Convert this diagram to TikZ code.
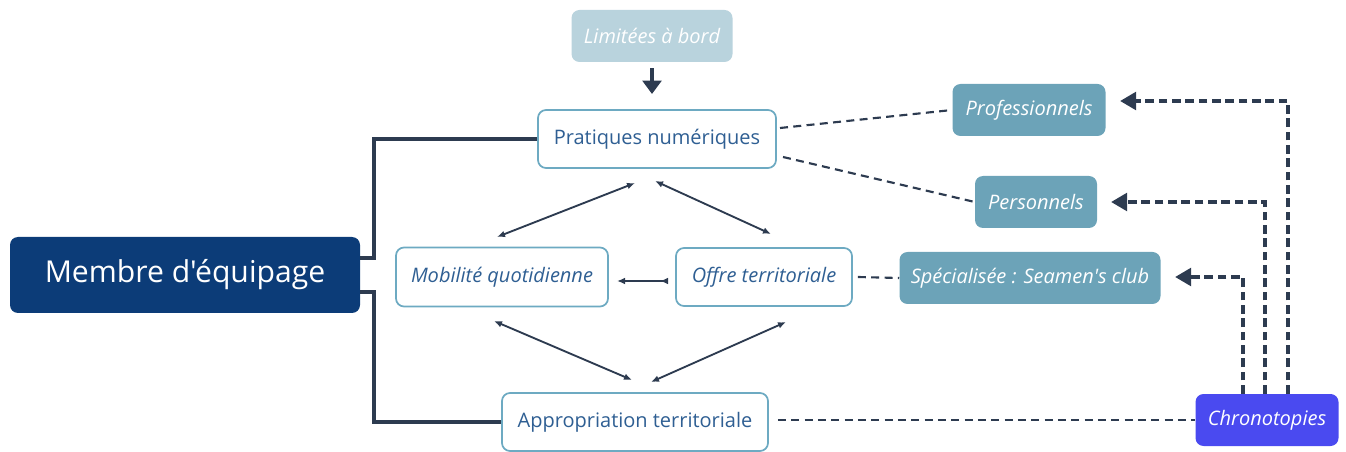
\documentclass[tikz,border=0pt]{standalone}
\usepackage{fontspec}
\setmainfont{Open Sans}[Ligatures=TeXOff]
\usetikzlibrary{arrows.meta}
\definecolor{navy}{HTML}{0C3C78}
\definecolor{conn}{HTML}{2D3B50}
\definecolor{bord}{HTML}{6DAAC2}
\definecolor{txt}{HTML}{2F5F93}
\definecolor{light}{HTML}{B9D3DD}
\definecolor{mid}{HTML}{6CA3B8}
\definecolor{chrono}{HTML}{4A4AF0}
\tikzset{
  base/.style={rounded corners=6pt, inner sep=0pt, font=\fontsize{15}{18}\selectfont},
  whitebox/.style={base, draw=bord, line width=1.3pt, fill=white, text=txt},
  midbox/.style={base, fill=mid, text=white, font=\fontsize{15}{18}\selectfont\itshape},
  trunk/.style={draw=conn, line width=3pt},
  rel/.style={draw=conn, line width=1.4pt, {Latex[length=6pt,width=5pt]}-{Latex[length=6pt,width=5pt]}},
  thindash/.style={draw=conn, line width=1.6pt, dash pattern=on 6pt off 4pt},
  thickdash/.style={draw=conn, line width=3pt, dash pattern=on 6.5pt off 3.5pt, -{Triangle[length=12pt,width=13pt]}},
}
\begin{document}
\begin{tikzpicture}[x=0.75pt,y=-0.75pt]
\useasboundingbox (0,0) rectangle (1346,452);
% nodes
\node[base, fill=navy, text=white, minimum width=262.5pt, minimum height=57pt, font=\fontsize{22.6}{26}\selectfont] (membre) at (185,275) {Membre d'équipage};
\node[base, fill=light, text=white, minimum width=120.75pt, minimum height=39pt, font=\fontsize{15}{18}\selectfont\itshape] (lim) at (652,36) {Limitées à bord};
\node[whitebox, minimum width=178.5pt, minimum height=43.5pt] (prat) at (657,139) {Pratiques numériques};
\node[whitebox, minimum width=159pt, minimum height=44.25pt, font=\fontsize{15}{18}\selectfont\itshape] (mob) at (502,277) {Mobilité quotidienne};
\node[whitebox, minimum width=132pt, minimum height=43.5pt, font=\fontsize{15}{18}\selectfont\itshape] (offre) at (764,277) {Offre territoriale};
\node[whitebox, minimum width=199.5pt, minimum height=43.5pt] (appr) at (635,422) {Appropriation territoriale};
\node[midbox, minimum width=114.75pt, minimum height=39pt] (pro) at (1029,110) {Professionnels};
\node[midbox, minimum width=91.5pt, minimum height=39pt] (pers) at (1036,202) {Personnels};
\node[midbox, minimum width=195.75pt, minimum height=39pt] (spec) at (1030,278) {Spécialisée : Seamen's club};
\node[base, fill=chrono, text=white, minimum width=107.25pt, minimum height=39pt, font=\fontsize{15}{18}\selectfont\itshape] (chrono) at (1267,420) {Chronotopies};
% trunk connectors
\draw[trunk] (membre.east |- 0,258) -- (374,258) |- (prat.west);
\draw[trunk] (membre.east |- 0,292) -- (374,292) |- (appr.west);
% limitees arrow
\draw[draw=conn, line width=3pt, -{Triangle[length=10pt,width=14pt]}] (lim.south) ++(0,6) -- (652,94);
% relations
\draw[rel] (635,183) -- (497,237);
\draw[rel] (655,181) -- (771,234);
\draw[draw=conn, line width=1.4pt, {Latex[length=6pt,width=5pt]}-{Latex[length=6pt,width=5pt,reversed]}] (617,281) -- (668,281);
\draw[rel] (494,321) -- (632,380);
\draw[rel] (786,322) -- (651,382);
% thin dashed
\draw[thindash] (780,128) -- (pro.west);
\draw[thindash] (783,157) -- (pers.west);
\draw[thindash] (offre.east) ++(5,0) -- (spec.west);
\draw[thindash] (appr.east) ++(9,-2) -- (chrono.west |- 0,420);
% thick dashed from chronotopies
\draw[thickdash] (chrono.north -| 1288,0) |- (1120,101);
\draw[thickdash] (chrono.north -| 1265,0) |- (1111,202);
\draw[thickdash] (chrono.north -| 1243,0) |- (1175,277);
\end{tikzpicture}
\end{document}
